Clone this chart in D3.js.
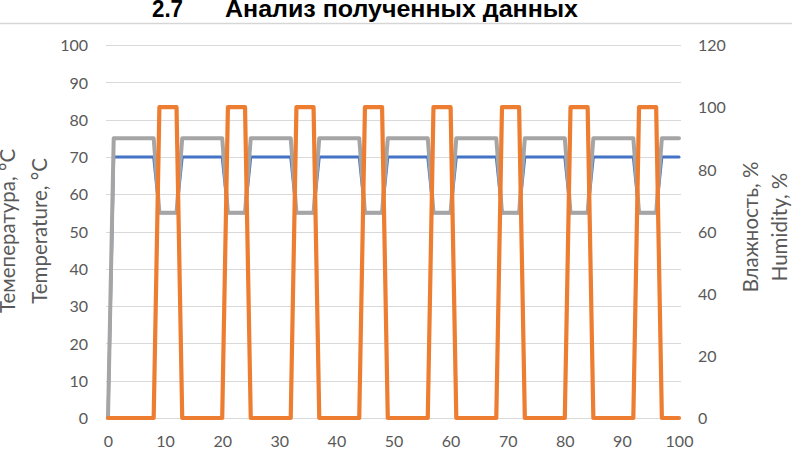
<!DOCTYPE html>
<html>
<head>
<meta charset="utf-8">
<script src="https://cdn.jsdelivr.net/npm/d3@7"></script>
<style>
  html, body { margin: 0; padding: 0; background: #fff; }
  svg { display: block; }
</style>
</head>
<body>
<svg id="chart" width="792" height="449"></svg>
<script>
// ---- data ----
const time = [0, 1, 8, 9, 12, 13, 20, 21, 24, 25, 32, 33, 36, 37, 44, 45, 48, 49, 56, 57, 60, 61, 68, 69, 72, 73, 80, 81, 84, 85, 92, 93, 96, 97, 100];
const temperature = [0, 70, 70, 55, 55, 70, 70, 55, 55, 70, 70, 55, 55, 70, 70, 55, 55, 70, 70, 55, 55, 70, 70, 55, 55, 70, 70, 55, 55, 70, 70, 55, 55, 70, 70];
const temperature2 = [0, 75, 75, 55, 55, 75, 75, 55, 55, 75, 75, 55, 55, 75, 75, 55, 55, 75, 75, 55, 55, 75, 75, 55, 55, 75, 75, 55, 55, 75, 75, 55, 55, 75, 75];
const humidity = [0, 0, 0, 100, 100, 0, 0, 100, 100, 0, 0, 100, 100, 0, 0, 100, 100, 0, 0, 100, 100, 0, 0, 100, 100, 0, 0, 100, 100, 0, 0, 100, 100, 0, 0];

const xTicks = [0, 10, 20, 30, 40, 50, 60, 70, 80, 90, 100];
const leftTicks = [0, 10, 20, 30, 40, 50, 60, 70, 80, 90, 100];
const rightTicks = [0, 20, 40, 60, 80, 100, 120];

const titleNum = "2.7";
const titleText = "Анализ полученных данных";
const leftTitle = ["Темепература, °C", "Temperature, °C"];
const rightTitle = ["Влажность, %", "Humidity, %"];

// ---- layout ----
const svg = d3.select("#chart");
const x = d3.scaleLinear().domain([0, 100]).range([108, 679]);
const yL = d3.scaleLinear().domain([0, 100]).range([418, 45]);
const yR = d3.scaleLinear().domain([0, 120]).range([418, 45]);

const tickFont = "Lato, 'Open Sans', sans-serif";
const tickColor = "#595959";
const titleFont = "'Liberation Sans Narrow', 'Arial Narrow', 'Liberation Sans', sans-serif";

// title
svg.append("line").attr("x1", 0).attr("x2", 792).attr("y1", 23.5).attr("y2", 23.5)
  .attr("stroke", "#d6d6d6").attr("stroke-width", 1.5);
svg.append("text").attr("x", 152).attr("y", 17)
  .attr("font-family", titleFont)
  .attr("font-weight", "bold").attr("font-size", 24).attr("fill", "#000")
  .attr("textLength", 31).attr("lengthAdjust", "spacingAndGlyphs")
  .text(titleNum);
svg.append("text").attr("x", 225).attr("y", 17)
  .attr("font-family", titleFont)
  .attr("font-weight", "bold").attr("font-size", 24).attr("fill", "#000")
  .attr("textLength", 353).attr("lengthAdjust", "spacingAndGlyphs")
  .text(titleText);

// gridlines
svg.append("g").selectAll("line").data(leftTicks).join("line")
  .attr("x1", 106).attr("x2", 681)
  .attr("y1", d => Math.round(yL(d)) + 0.5).attr("y2", d => Math.round(yL(d)) + 0.5)
  .attr("stroke", "#d9d9d9").attr("stroke-width", 1);

// axes
function styleAxis(g) {
  g.select(".domain").remove();
  g.selectAll(".tick line").remove();
  g.selectAll("text").attr("font-family", tickFont).attr("font-size", 16).attr("fill", tickColor);
}
svg.append("g").attr("transform", "translate(88,0)")
  .call(d3.axisLeft(yL).tickValues(leftTicks).tickSize(0).tickPadding(0))
  .call(styleAxis)
  .selectAll("text").attr("dy", "0.36em");
svg.append("g").attr("transform", "translate(698,0)")
  .call(d3.axisRight(yR).tickValues(rightTicks).tickSize(0).tickPadding(0))
  .call(styleAxis)
  .selectAll("text").attr("dy", "0.36em");
svg.append("g").attr("transform", "translate(0,447)")
  .call(d3.axisBottom(x).tickValues(xTicks).tickSize(0).tickPadding(0))
  .call(styleAxis)
  .selectAll("text").attr("dy", "0").attr("y", 0);

// axis titles
const cyL = 231;
leftTitle.forEach((t, i) => {
  svg.append("text")
    .attr("transform", `translate(${15 + i * 32},${cyL}) rotate(-90)`)
    .attr("text-anchor", "middle")
    .attr("font-family", tickFont).attr("font-size", 20.5).attr("fill", tickColor)
    .text(t);
});
const cyR = 227;
rightTitle.forEach((t, i) => {
  svg.append("text")
    .attr("transform", `translate(${758 + i * 29},${cyR}) rotate(-90)`)
    .attr("text-anchor", "middle")
    .attr("font-family", tickFont).attr("font-size", 20.5).attr("fill", tickColor)
    .text(t);
});

// lines
const idx = d3.range(time.length);
function drawLine(vals, yScale, color, width) {
  const line = d3.line().x(i => x(time[i])).y(i => yScale(vals[i]));
  svg.append("path").datum(idx).attr("d", line)
    .attr("fill", "none").attr("stroke", color).attr("stroke-width", width)
    .attr("stroke-linejoin", "round").attr("stroke-linecap", "round");
}
drawLine(temperature, yL, "#4472C4", 3);
drawLine(temperature2, yL, "#A5A5A5", 4);
drawLine(humidity, yR, "#ED7D31", 4.2);
</script>
</body>
</html>
